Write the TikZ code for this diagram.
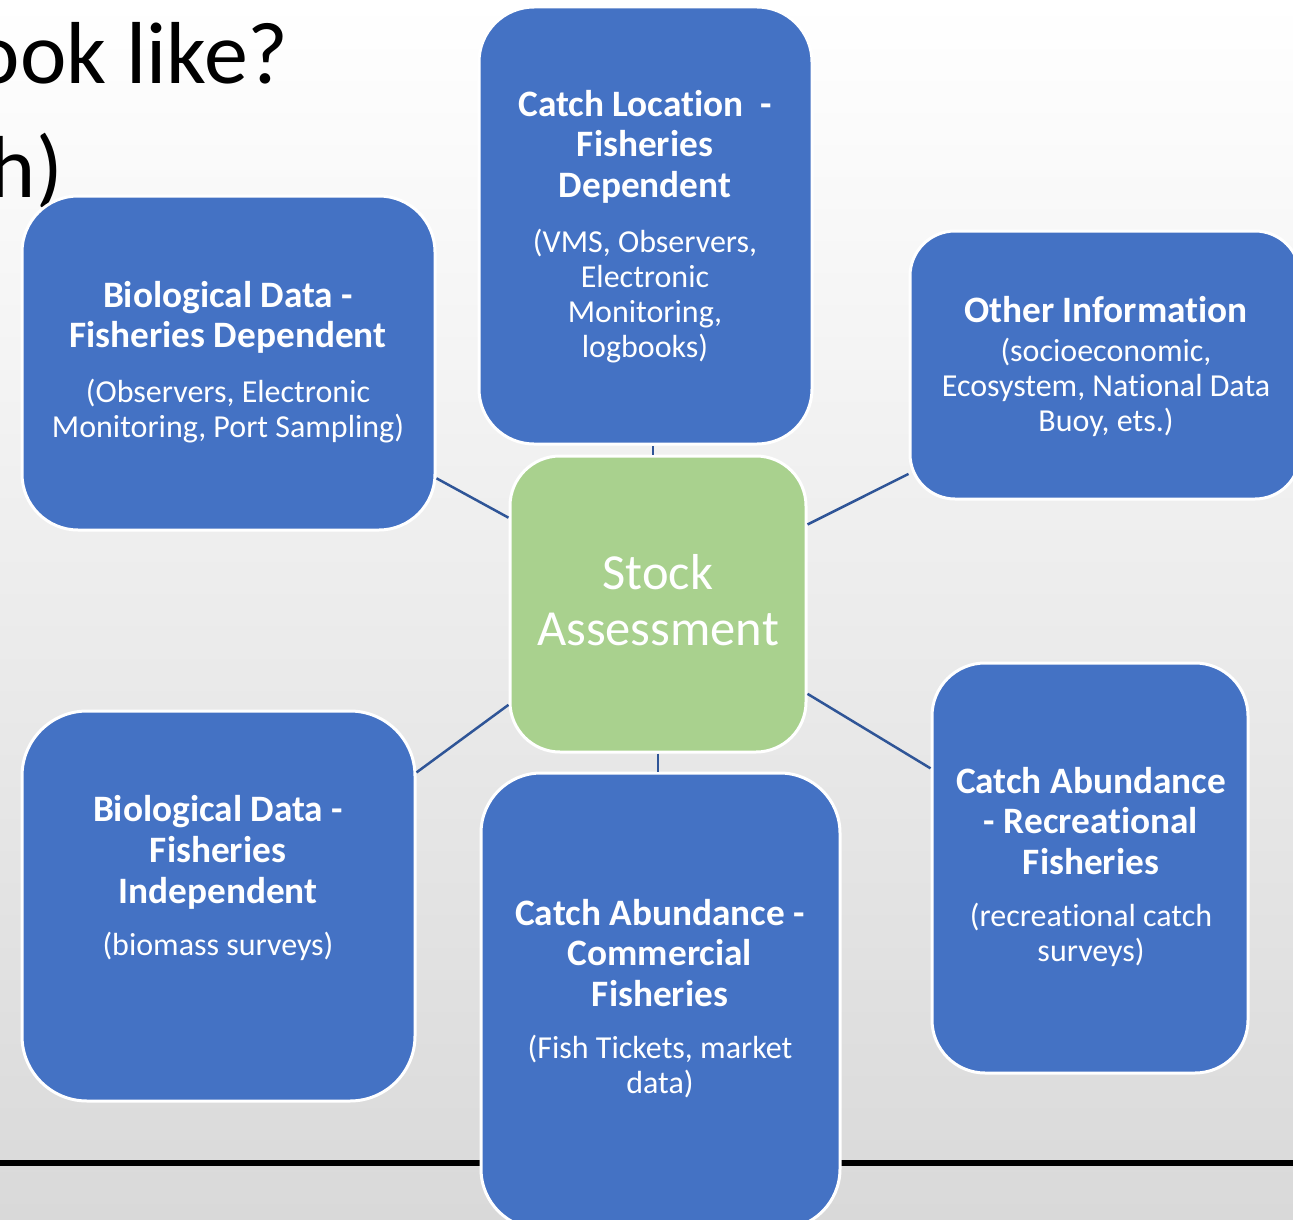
\documentclass[tikz,border=0pt]{standalone}
\usepackage{fontspec}
\setmainfont[Ligatures={NoCommon}]{Carlito}
\definecolor{boxblue}{HTML}{4472C4}
\definecolor{boxgreen}{HTML}{A9D18E}
\definecolor{linkblue}{HTML}{2F5597}
\definecolor{bgbottom}{HTML}{D9D9D9}
\tikzset{
  bluebox/.style={rectangle, draw=white, line width=3pt, fill=boxblue, rounded corners=#1, inner sep=0pt},
  greenbox/.style={rectangle, draw=white, line width=3pt, fill=boxgreen, rounded corners=#1, inner sep=0pt},
  ttl/.style={align=center, text=white, inner sep=0pt, anchor=base, font=\fontsize{37.3}{40.8}\selectfont\bfseries},
  sub/.style={align=center, text=white, inner sep=0pt, anchor=base, font=\fontsize{32}{35}\selectfont},
  big/.style={align=center, text=white, inner sep=0pt, anchor=base, font=\fontsize{50.5}{56}\selectfont},
  head/.style={inner sep=0pt, anchor=base east, text=black, font=\fontsize{88}{100}\selectfont},
  link/.style={draw=linkblue, line width=2.5pt},
}
\begin{document}
\begin{tikzpicture}[x=1pt, y=-1pt]
\useasboundingbox (0,0) rectangle (1293,1220);
\clip (0,0) rectangle (1293,1220);
\shade[top color=white, bottom color=bgbottom] (0,0) rectangle (1293,1220);
% heading fragments
\node[head] (h1) at (289,84) {ook like?};
\node[head] (h2) at (63,197) {h)};
% slide rule line
\draw[black, line width=6pt] (0,1163) -- (1293,1163);
% boxes
\node[bluebox=56, minimum width=413pt, minimum height=334pt] (bfd) at (228.5,363) {};
\node[bluebox=55, minimum width=333pt, minimum height=437pt] (cl) at (645.5,225.5) {};
\node[bluebox=45, minimum width=390pt, minimum height=268pt] (oi) at (1105,365) {};
\node[greenbox=50, minimum width=296pt, minimum height=296pt] (sa) at (658,604) {};
\node[bluebox=65, minimum width=393pt, minimum height=390pt] (bfi) at (218.5,906) {};
\node[bluebox=60, minimum width=359pt, minimum height=456pt] (cc) at (660.5,1001) {};
\node[bluebox=53, minimum width=316pt, minimum height=410pt] (rc) at (1090,868) {};
% connectors
\draw[link] (sa.150.4) -- (bfd.-29.1);
\draw[link] (sa.92.3) -- (sa.92.3 |- cl.south);
\draw[link] (sa.28.4) -- (oi.-151.9);
\draw[link] (sa.214.3) -- (bfi.34.7);
\draw[link] (sa.south) -- (sa.south |- cc.north);
\draw[link] (sa.-31.0) -- (rc.148.2);
% texts (anchor base = baseline of last line)
\node[big] (saT) at (658,645) {Stock\\Assessment};
\node[ttl] (clT) at (645,197.6) {Catch Location\ \ -\\Fisheries\\Dependent};
\node[sub] (clS) at (645,357) {(VMS, Observers,\\Electronic\\Monitoring,\\logbooks)};
\node[ttl] (bfdT) at (228,347.8) {Biological Data -\\Fisheries Dependent};
\node[sub] (bfdS) at (228,437) {(Observers, Electronic\\Monitoring, Port Sampling)};
\node[ttl] (oiT) at (1106,322) {Other Information};
\node[sub] (oiS) at (1106,431.5) {(socioeconomic,\\Ecosystem, National Data\\Buoy, ets.)};
\node[ttl] (bfiT) at (218,903.1) {Biological Data -\\Fisheries\\Independent};
\node[sub] (bfiS) at (218,955) {(biomass surveys)};
\node[ttl] (ccT) at (660,1006.6) {Catch Abundance -\\Commercial\\Fisheries};
\node[sub] (ccS) at (660,1093) {(Fish Tickets, market\\data)};
\node[ttl] (rcT) at (1091,874.6) {Catch Abundance\\- Recreational\\Fisheries};
\node[sub] (rcS) at (1091,961.5) {(recreational catch\\surveys)};
\end{tikzpicture}
\end{document}
